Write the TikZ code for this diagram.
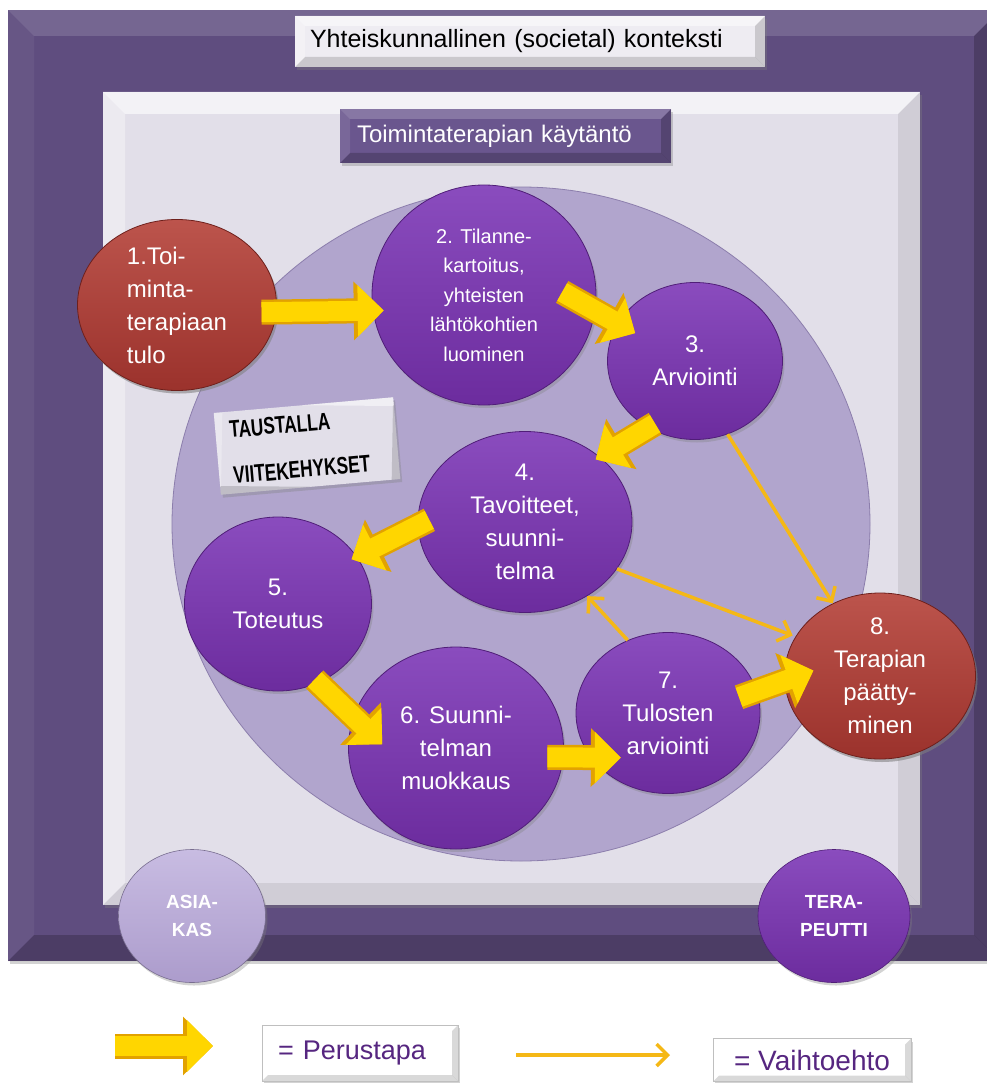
\documentclass[tikz,border=0pt]{standalone}
\usepackage{fontspec}
\setmainfont{Liberation Sans}
\newfontfamily\narrowfont[FakeStretch=0.72]{Liberation Sans}
\usetikzlibrary{arrows.meta,shapes.geometric,shadows}

\definecolor{framepurple}{RGB}{95,77,127}
\definecolor{framelight}{RGB}{226,223,233}
\definecolor{labelwhite}{RGB}{238,236,242}
\definecolor{practice}{RGB}{106,86,142}
\definecolor{poolcolor}{RGB}{177,165,205}
\definecolor{pooledge}{RGB}{140,126,172}
\definecolor{stagepurple}{RGB}{108,44,158}
\definecolor{stagetop}{RGB}{138,76,190}
\definecolor{stageedge}{RGB}{80,30,120}
\definecolor{stagered}{RGB}{155,50,44}
\definecolor{redtop}{RGB}{188,84,76}
\definecolor{rededge}{RGB}{110,32,28}
\definecolor{lilac}{RGB}{172,156,204}
\definecolor{lilactop}{RGB}{200,188,226}
\definecolor{arrowyellow}{RGB}{255,214,0}
\definecolor{arrowedge}{RGB}{226,162,0}
\definecolor{altorange}{RGB}{245,184,22}
\definecolor{legendtext}{RGB}{86,38,128}

\tikzset{
  bevel/.style n args={4}{path picture={
    \fill[white,opacity=#2] (path picture bounding box.north west) -- (path picture bounding box.north east)
      -- ([shift={(-#1,-#1)}]path picture bounding box.north east)
      -- ([shift={(#1,-#1)}]path picture bounding box.north west) -- cycle;
    \fill[white,opacity=#3] (path picture bounding box.north west) -- ([shift={(#1,-#1)}]path picture bounding box.north west)
      -- ([shift={(#1,#1)}]path picture bounding box.south west) -- (path picture bounding box.south west) -- cycle;
    \fill[black,opacity=#4] (path picture bounding box.south west) -- ([shift={(#1,#1)}]path picture bounding box.south west)
      -- ([shift={(-#1,#1)}]path picture bounding box.south east) -- (path picture bounding box.south east) -- cycle;
    \fill[black,opacity=#4] (path picture bounding box.south east) -- ([shift={(-#1,#1)}]path picture bounding box.south east)
      -- ([shift={(-#1,-#1)}]path picture bounding box.north east) -- (path picture bounding box.north east) -- cycle;
  }},
  softshadow/.style={drop shadow={shadow xshift=2pt,shadow yshift=-3pt,opacity=.35}},
  stage/.style={ellipse,draw=stageedge,line width=0.8pt,top color=stagetop,bottom color=stagepurple,
    text=white,align=center,inner sep=-6pt,font=\fontsize{24}{33}\selectfont,softshadow},
  endstage/.style={stage,draw=rededge,top color=redtop,bottom color=stagered},
  person/.style={ellipse,draw=stageedge,line width=0.6pt,inner sep=-6pt,text=white,align=center,
    font=\bfseries\fontsize{19}{28}\selectfont,softshadow},
  labelbox/.style={rectangle,minimum height=51pt,inner xsep=15pt,align=left,softshadow},
  legendbox/.style={rectangle,fill=white,draw=black!25,line width=0.6pt,bevel={6pt}{.4}{.3}{.15},text=legendtext,softshadow},
  basicarrow/.style={draw=arrowyellow,line width=20pt,-{Triangle[length=26pt 0,width=50pt 0]},
    preaction={draw=arrowedge,line width=25pt,-{Triangle[length=30pt 0,width=57pt 0]}}},
  altarrow/.style={draw=altorange,line width=3.5pt,-{Straight Barb[length=11pt 0,width=22pt 0]}}
}

\begin{document}
\begin{tikzpicture}[x=1pt,y=-1pt]
  \useasboundingbox (0,0) rectangle (986,1083);

  \path[fill=framepurple,bevel={26pt}{.14}{.05}{.2},softshadow] (8,10) rectangle (1000,961);
  \node[labelbox,fill=labelwhite,bevel={10pt}{.5}{.3}{.15},minimum width=470pt,text width=440pt,
    font=\fontsize{25}{30}\selectfont] (society) at (530,41.5) {Yhteiskunnallinen (societal) konteksti};

  \path[fill=framelight,bevel={22pt}{.6}{.35}{.08},softshadow] (103,92) rectangle (920,905);
  \node[labelbox,fill=practice,bevel={10pt}{.2}{.1}{.2},minimum width=331pt,minimum height=54pt,inner xsep=17pt,
    text width=297pt,text=white,font=\fontsize{24}{30}\selectfont] (practice) at (505.5,136) {Toimintaterapian käytäntö};

  \draw[fill=poolcolor,draw=pooledge,line width=0.8pt] (521,524) ellipse [x radius=349,y radius=337];

  \node[rectangle,rotate=5,fill=framelight,bevel={8pt}{.5}{.3}{.15},softshadow,minimum width=180pt,minimum height=82pt,
    text width=152pt,inner xsep=14pt,align=left,font=\narrowfont\bfseries\fontsize{24}{46}\selectfont]
    (frames) at (307,446) {TAUSTALLA\\VIITEKEHYKSET};

  \begin{scope}[every node/.style={stage}]
    \node[endstage,minimum width=199pt,minimum height=171pt,align=left] (1) at (177,305) {1.Toi-\\minta-\\terapiaan\\tulo};
    \node[minimum width=224pt,minimum height=220pt,font=\fontsize{20}{29.5}\selectfont] (2) at (484,295)
      {2. Tilanne-\\kartoitus,\\yhteisten\\lähtökohtien\\luominen};
    \node[minimum width=175pt,minimum height=157pt] (3) at (695,361) {3.\\Arviointi};
    \node[minimum width=214pt,minimum height=181pt] (4) at (525,522) {4.\\Tavoitteet,\\suunni-\\telma};
    \node[minimum width=187pt,minimum height=174pt] (5) at (278,604) {5.\\Toteutus};
    \node[minimum width=215pt,minimum height=202pt] (6) at (456,748) {6. Suunni-\\telman\\muokkaus};
    \node[minimum width=184pt,minimum height=161pt] (7) at (668,713) {7.\\Tulosten\\arviointi};
    \node[endstage,minimum width=191pt,minimum height=166pt] (8) at (880,676) {8.\\Terapian\\päätty-\\minen};
  \end{scope}

  \path (1.-4) edge[basicarrow,shorten <=-15pt,shorten >=-11pt] (2.188);
  \path (2.-8) edge[basicarrow,shorten <=-38pt,shorten >=-20pt] (3.154);
  \path (3.235) edge[basicarrow,shorten <=-8pt,shorten >=-5pt] (4.41);
  \path (4.182) edge[basicarrow,shorten <=-13pt,shorten >=-6pt] (5.31);
  \path (5.-63) edge[basicarrow,shorten <=-5pt,shorten >=-40pt] (6.163);
  \path (6.-5) edge[basicarrow,shorten <=-16pt,shorten >=-30pt] (7.210);
  \path (7.14) edge[basicarrow,shorten <=-19pt,shorten >=-31pt] (8.183);

  \path (3.-66) edge[altarrow] (8.123);
  \path (4.-27) edge[altarrow,shorten >=3pt] (8.155);
  \path (7.119) edge[altarrow] (4.-50);

  \node[person,top color=lilactop,bottom color=lilac,draw=lilac!70!black,minimum width=147pt,minimum height=133pt]
    (asiakas) at (192,916) {ASIA-\\KAS};
  \node[person,top color=stagetop,bottom color=stagepurple,minimum width=152pt,minimum height=133pt]
    (terapeutti) at (834,916) {TERA-\\PEUTTI};

  \coordinate (lgs) at (115,1046);
  \coordinate (lge) at (213,1046);
  \path (lgs) edge[basicarrow] (lge);
  \node[legendbox,minimum width=196pt,minimum height=56pt,text width=164pt,inner xsep=16pt,align=left,
    font=\fontsize{27}{30}\selectfont] (perus) at (360,1053) {= Perustapa};

  \coordinate (lts) at (516,1055);
  \coordinate (lte) at (670,1055);
  \path (lts) edge[altarrow] (lte);
  \node[legendbox,minimum width=198pt,minimum height=43pt,font=\fontsize{28}{30}\selectfont] (vaiht) at (812,1060) {= Vaihtoehto};
\end{tikzpicture}
\end{document}
